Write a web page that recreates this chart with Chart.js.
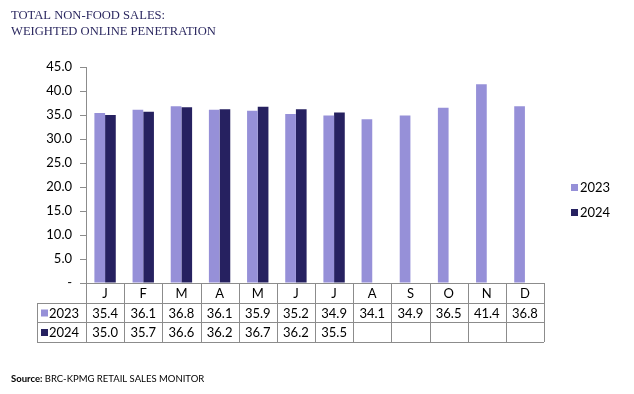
<!DOCTYPE html>
<html>
<head>
<meta charset="utf-8">
<script src="https://cdn.jsdelivr.net/npm/chart.js@4"></script>
<style>
  html, body { margin: 0; padding: 0; background: #fff; }
  #wrap { position: relative; width: 634px; height: 394px; }
</style>
</head>
<body>
<div id="wrap"><canvas id="chart" width="634" height="394"></canvas></div>
<script>
const months = ['J', 'F', 'M', 'A', 'M', 'J', 'J', 'A', 'S', 'O', 'N', 'D'];
const sales2023 = [35.4, 36.1, 36.8, 36.1, 35.9, 35.2, 34.9, 34.1, 34.9, 36.5, 41.4, 36.8];
const sales2024 = [35.0, 35.7, 36.6, 36.2, 36.7, 36.2, 35.5, null, null, null, null, null];
const yTicks = [0, 5, 10, 15, 20, 25, 30, 35, 40, 45];

const light = '#9690d8';
const dark = '#262160';
const lineGray = '#8c8c8c';
const font = 'Lato, sans-serif';

// draws title, source, right legend and the data table under the axis
const extras = {
  id: 'extras',
  afterDraw(chart) {
    const ctx = chart.ctx;
    const x = chart.scales.x;
    const area = chart.chartArea;
    const left = area.left, right = area.right;
    const top = area.bottom;
    const rows = [top, top + 20, top + 39, top + 59];
    const tableLeft = 37;
    const colW = (right - left) / months.length;

    ctx.save();
    // title
    ctx.fillStyle = '#2b2860';
    ctx.font = '12.6px "Liberation Serif", serif';
    ctx.textAlign = 'left';
    ctx.textBaseline = 'alphabetic';
    ctx.fillText('TOTAL NON-FOOD SALES:', 11, 19);
    ctx.fillText('WEIGHTED ONLINE PENETRATION', 11, 35);

    // source
    ctx.fillStyle = '#000';
    ctx.font = 'bold 9.5px ' + font;
    ctx.fillText('Source:', 11, 382);
    const sw = ctx.measureText('Source: ').width;
    ctx.font = '9.5px ' + font;
    ctx.fillText('BRC-KPMG RETAIL SALES MONITOR', 11 + sw, 382);

    // table grid
    ctx.strokeStyle = lineGray;
    ctx.lineWidth = 1;
    ctx.beginPath();
    ctx.moveTo(left, rows[0] + 0.5); ctx.lineTo(right, rows[0] + 0.5);
    for (let r = 1; r < rows.length; r++) {
      ctx.moveTo(tableLeft, rows[r] + 0.5); ctx.lineTo(right, rows[r] + 0.5);
    }
    for (let c = 0; c <= months.length; c++) {
      const cx = Math.round(left + c * colW) + 0.5;
      ctx.moveTo(cx, rows[0]); ctx.lineTo(cx, rows[3]);
    }
    ctx.moveTo(tableLeft + 0.5, rows[1]); ctx.lineTo(tableLeft + 0.5, rows[3]);
    ctx.stroke();

    // table text
    ctx.font = '13px ' + font;
    ctx.textAlign = 'center';
    ctx.textBaseline = 'middle';
    ctx.fillStyle = '#000';
    months.forEach((m, i) => {
      const cx = x.getPixelForValue(i);
      ctx.fillText(m, cx, (rows[0] + rows[1]) / 2 + 1);
      if (sales2023[i] != null) ctx.fillText(sales2023[i].toFixed(1), cx, (rows[1] + rows[2]) / 2 + 1);
      if (sales2024[i] != null) ctx.fillText(sales2024[i].toFixed(1), cx, (rows[2] + rows[3]) / 2 + 1);
    });

    // table row keys
    const keys = [[light, '2023'], [dark, '2024']];
    keys.forEach(([col, label], k) => {
      const cy = (rows[k + 1] + rows[k + 2]) / 2 + 1;
      ctx.fillStyle = col;
      ctx.fillRect(41, cy - 4, 7, 7);
      ctx.fillStyle = '#000';
      ctx.textAlign = 'left';
      ctx.fillText(label, 49, cy);
    });

    // right legend
    keys.forEach(([col, label], k) => {
      const cy = 188 + k * 25;
      ctx.fillStyle = col;
      ctx.fillRect(571, cy - 4, 7, 7);
      ctx.fillStyle = '#000';
      ctx.textAlign = 'left';
      ctx.fillText(label, 580, cy);
    });
    ctx.restore();
  }
};

new Chart(document.getElementById('chart'), {
  type: 'bar',
  data: {
    labels: months,
    datasets: [
      { label: '2023', data: sales2023, backgroundColor: light },
      { label: '2024', data: sales2024, backgroundColor: dark }
    ]
  },
  options: {
    responsive: false,
    animation: false,
    events: [],
    layout: { padding: { left: 26, right: 90, top: 67, bottom: 111 } },
    datasets: { bar: { categoryPercentage: 0.56, barPercentage: 1 } },
    plugins: { legend: { display: false }, tooltip: { enabled: false } },
    scales: {
      x: { display: false },
      y: {
        min: 0,
        max: 45,
        afterFit(scale) { scale.width = 60; },
        afterBuildTicks(scale) { scale.ticks = yTicks.map(v => ({ value: v })); },
        border: { color: lineGray, width: 1 },
        grid: { drawOnChartArea: false, drawTicks: true, tickLength: 6, color: lineGray },
        ticks: {
          padding: 8,
          color: '#000',
          font: { family: font, size: 13 },
          callback: v => v === 0 ? '-' : v.toFixed(1)
        }
      }
    }
  },
  plugins: [extras]
});
</script>
</body>
</html>
